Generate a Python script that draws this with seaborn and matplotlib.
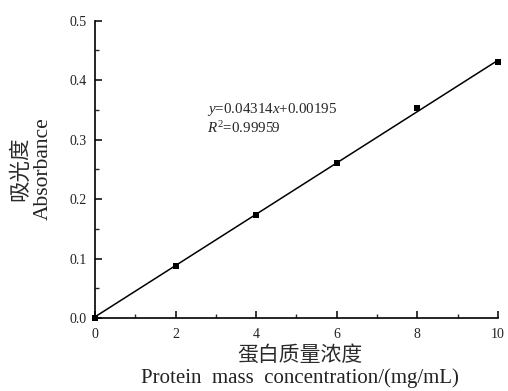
import numpy as np
import pandas as pd
import matplotlib
matplotlib.use("Agg")
import matplotlib.pyplot as plt
import seaborn as sns
from matplotlib.ticker import MultipleLocator

# Standard curve measurements
concentration = [0, 2, 4, 6, 8, 10]
absorbance = [0.0, 0.088, 0.1725, 0.261, 0.3525, 0.4305]

# Linear fit parameters
slope = 0.04314
intercept = 0.00195
r_squared = 0.99959

x_ticks = [0, 2, 4, 6, 8, 10]
y_ticks = [0.0, 0.1, 0.2, 0.3, 0.4, 0.5]

sns.set_style("ticks")
plt.rcParams["font.family"] = ["Liberation Serif", "Noto Sans CJK SC"]
plt.rcParams["mathtext.fontset"] = "custom"
plt.rcParams["mathtext.rm"] = "Liberation Serif"
plt.rcParams["mathtext.it"] = "Liberation Serif:italic"

fig = plt.figure(figsize=(5.08, 3.91), dpi=100)
ax = fig.add_axes([0.187, 0.1867, 0.793, 0.7603])

pts = pd.DataFrame({"x": concentration, "y": absorbance})
fit_x = np.array([0.0, 10.0])
fit = pd.DataFrame({"x": fit_x, "y": slope * fit_x + intercept})

sns.lineplot(data=fit, x="x", y="y", ax=ax, color="black", linewidth=1.1)
sns.scatterplot(data=pts, x="x", y="y", ax=ax, marker="s", color="black",
                s=18, edgecolor="black", linewidth=0, clip_on=False, zorder=5)

ax.set_xlim(0, 10)
ax.set_ylim(0, 0.5)
ax.set_xticks(x_ticks)
ax.set_xticklabels([str(v) for v in x_ticks])
ax.set_yticks(y_ticks)
ax.set_yticklabels([f"{v:.1f}" for v in y_ticks])
ax.xaxis.set_minor_locator(MultipleLocator(1))
ax.yaxis.set_minor_locator(MultipleLocator(0.05))
ax.tick_params(which="major", direction="in", length=5, width=1.1,
               labelsize=10, colors="black", labelcolor="#222222")
ax.tick_params(axis="x", which="major", pad=7)
ax.tick_params(axis="y", which="major", pad=6)
ax.tick_params(which="minor", direction="in", length=3, width=1.0)
for side in ("top", "right"):
    ax.spines[side].set_visible(False)
for side in ("left", "bottom"):
    ax.spines[side].set_linewidth(1.2)
    ax.spines[side].set_color("black")
ax.set_xlabel("")
ax.set_ylabel("")

ax.text(2.78, 0.351, f"$y$=0.04314$x$+0.00195", fontsize=10.8, ha="left", va="center")
ax.text(2.78, 0.320, f"$R^2$=0.99959", fontsize=10.8, ha="left", va="center")

fig.text(0.59, 0.092, "蛋白质量浓度", fontsize=15, ha="center", va="center",
         family=["Noto Sans CJK SC"], color="#2a2a2a", fontweight="light")
fig.text(0.59, 0.032, "Protein  mass  concentration/(mg/mL)", fontsize=15,
         ha="center", va="center", color="#222222")
fig.text(0.039, 0.568, "吸光度", fontsize=15.5, rotation=90, ha="center",
         va="center", family=["Noto Sans CJK SC"], color="#2a2a2a",
         fontweight="light")
fig.text(0.085, 0.568, "Absorbance", fontsize=15.5, rotation=90, ha="center",
         va="center", color="#222222")

fig.savefig("out.png", dpi=100, facecolor="white")
